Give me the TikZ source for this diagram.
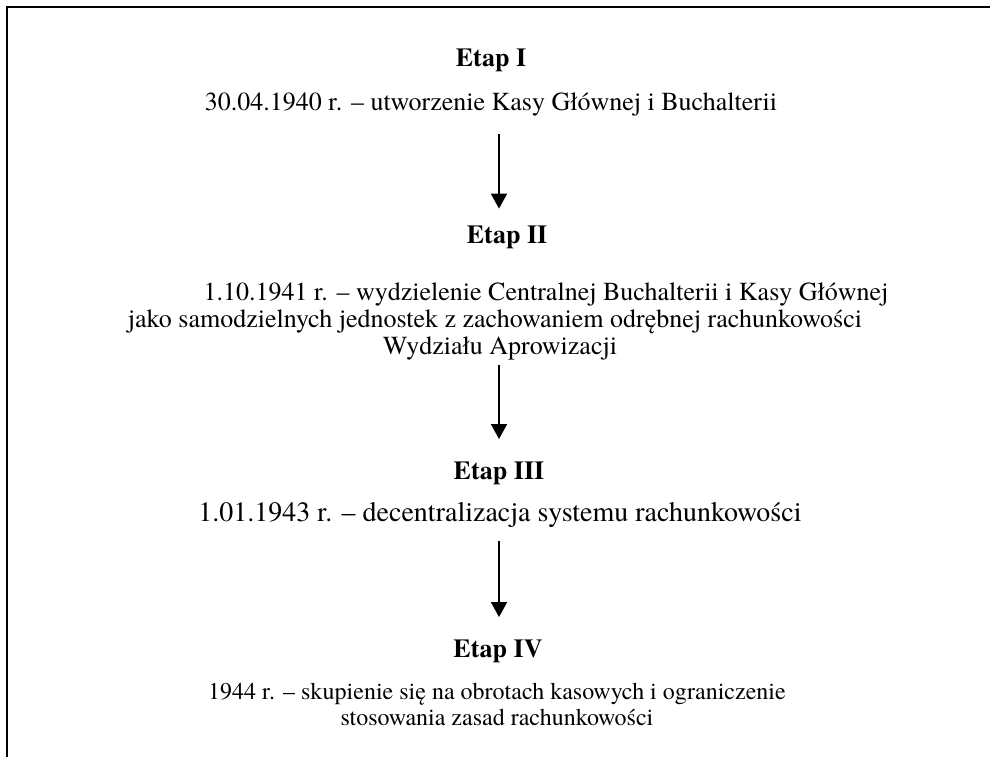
\documentclass[tikz,border=0pt]{standalone}
\usepackage{fontspec}
\setmainfont{texgyretermes}[Extension=.otf, UprightFont=*-regular, BoldFont=*-bold,
    ItalicFont=*-italic, BoldItalicFont=*-bolditalic]
\usetikzlibrary{arrows.meta}
\usetikzlibrary{positioning}

\begin{document}
\begin{tikzpicture}[x=0.5pt,y=-0.5pt,
    etap/.style={font=\bfseries\fontsize{13}{14}\selectfont, inner sep=0pt, anchor=base},
    opis/.style={font=\fontsize{13}{13.6}\selectfont, align=center, inner sep=0pt},
    strzalka/.style={-{Triangle[length=7.5pt,width=8pt]}, line width=0.9pt}]
    \useasboundingbox (0,0) rectangle (990,757);

    % Frame:
    % Only the top and the left edge are visible
    \draw [line width=1pt] (990,7) -- (7,7) -- (7,757);

    % Stages:
    \node [etap] (h1) at (491,66)  {Etap I};
    \node [opis, anchor=base] (t1) at (491,110) {30.04.1940 r. -- utworzenie Kasy Głównej i Buchalterii};

    \node [etap] (h2) at (507,243) {Etap II};
    \node [opis, anchor=north] (t2) at (495,282) {\hspace*{51pt}1.10.1941 r. -- wydzielenie Centralnej Buchalterii i Kasy Głównej\\
        jako samodzielnych jednostek z zachowaniem odrębnej rachunkowości\\
        \hspace*{5pt}Wydziału Aprowizacji};

    \node [etap] (h3) at (499,479) {Etap III};
    \node [opis, font=\fontsize{14}{14}\selectfont, anchor=base] (t3) at (500,521) {1.01.1943 r. -- decentralizacja systemu rachunkowości};

    \node [etap] (h4) at (498,657) {Etap IV};
    \node [opis, font=\fontsize{12}{13}\selectfont, anchor=north] (t4) at (497,683) {1944 r. -- skupienie się na obrotach kasowych i ograniczenie\\
        stosowania zasad rachunkowości};

    % Arrows between the stages:
    % all of them on one vertical axis
    \coordinate (os) at (499,0);
    \draw [strzalka, shorten <=9.2pt, shorten >=8.2pt] (t1.south -| os) -- (h2.north -| os);
    \draw [strzalka, shorten <=2pt, shorten >=11pt] (t2.south -| os) -- (h3.north -| os);
    \draw [strzalka, shorten <=6.5pt, shorten >=11pt] (t3.south -| os) -- (h4.north -| os);
\end{tikzpicture}
\end{document}
